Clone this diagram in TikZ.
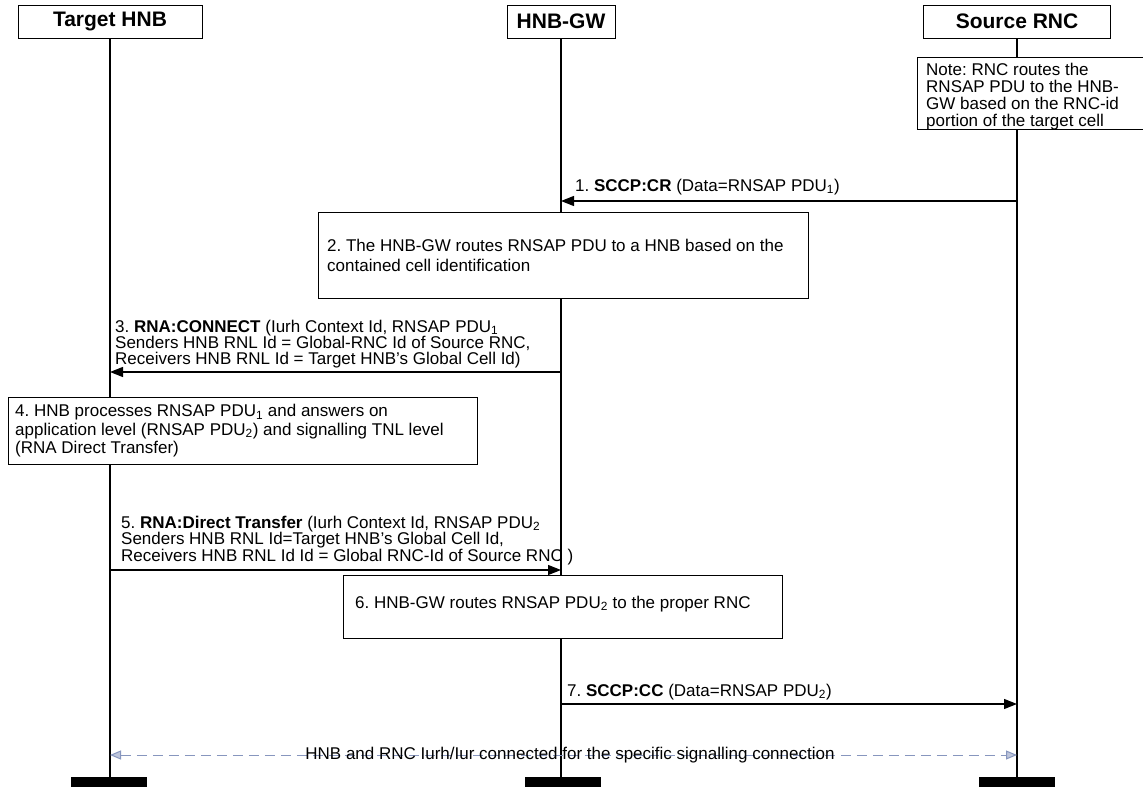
\documentclass[tikz,border=0pt]{standalone}
\usepackage{fontspec}
\setmainfont{Liberation Sans}
\usetikzlibrary{arrows.meta}
\definecolor{dashblue}{RGB}{135,150,190}
\frenchspacing
\begin{document}
\begin{tikzpicture}[x=1pt,y=-1pt,
  hdr/.style={draw, line width=0.9pt, fill=white, minimum height=33pt, inner sep=0pt, font=\fontsize{21}{22}\selectfont\bfseries},
  life/.style={line width=1.2pt},
  bar/.style={fill=black, minimum width=76pt, minimum height=10pt, inner sep=0pt},
  proc/.style={draw, line width=0.9pt, fill=white, anchor=north west, inner sep=0pt},
  txt/.style={anchor=west, inner sep=0pt, align=left},
  lbl/.style={anchor=north west, inner sep=0pt, align=left, font=\fontsize{17}{15.2}\selectfont},
  msg/.style={line width=1.3pt, -{Triangle[length=13pt,width=10pt]}},
  conn/.style={draw=dashblue, line width=1pt, dash pattern=on 10pt off 6pt,
    {Triangle[length=11pt,width=9pt,fill=dashblue!55]}-{Triangle[length=11pt,width=9pt,fill=dashblue!55]}}
]
\useasboundingbox (0,0) rectangle (1143,787);
% headers
\node[hdr, minimum width=184pt] (thnb) at (110,21.5) {Target HNB};
\node[hdr, minimum width=108pt] (gw) at (561,21.5) {HNB-GW};
\node[hdr, minimum width=187pt] (rnc) at (1017,21.5) {Source RNC};
% bottom bars
\node[bar] (b1) at (109,782) {};
\node[bar] (b2) at (563,782) {};
\node[bar] (b3) at (1017,782) {};
% lifelines
\draw[life] (thnb.south) -- (b1.north -| thnb.south);
\draw[life] (gw.south) -- (b2.north -| gw.south);
\draw[life] (rnc.south) -- (b3.north -| rnc.south);
% note
\node[proc, minimum width=226pt, minimum height=72pt] (note) at (917,57) {};
\node[txt, font=\fontsize{17}{16.8}\selectfont] (notet) at ([xshift=9pt,yshift=-3pt]note.west) {Note: RNC routes the\\RNSAP PDU to the HNB-\\GW based on the RNC-id\\portion of the target cell};
% message 1
\coordinate (m1a) at (1017,201);
\coordinate (m1b) at (561,201);
\draw[msg] (m1a) -- (m1b);
\node[lbl] (l1) at (575,178.6) {1. \textbf{SCCP:CR} (Data=RNSAP PDU\textsubscript{1})};
% box 2
\node[proc, minimum width=490pt, minimum height=86pt] (p2) at (318,212) {};
\node[txt, font=\fontsize{17}{20}\selectfont] (p2t) at ([xshift=9pt]p2.west) {2. The HNB-GW routes RNSAP PDU to a HNB based on the\\contained cell identification};
% message 3
\coordinate (m3a) at (561,372);
\coordinate (m3b) at (110,372);
\draw[msg] (m3a) -- (m3b);
\node[lbl] (l3) at (115,319.6) {3. \textbf{RNA:CONNECT} (Iurh Context Id, RNSAP PDU\textsubscript{1}\\Senders HNB RNL Id = Global-RNC Id of Source RNC,\\Receivers HNB RNL Id = Target HNB’s Global Cell Id)};
% box 4
\node[proc, minimum width=469pt, minimum height=67pt] (p4) at (8,397) {};
\node[txt, font=\fontsize{17}{18.5}\selectfont] (p4t) at ([xshift=7pt]p4.west) {4. HNB processes RNSAP PDU\textsubscript{1} and answers on\\application level (RNSAP PDU\textsubscript{2}) and signalling TNL level\\(RNA Direct Transfer)};
% message 5
\coordinate (m5a) at (110,570);
\coordinate (m5b) at (561,570);
\draw[msg] (m5a) -- (m5b);
\node[lbl] (l5) at (121,515.6) {5. \textbf{RNA:Direct Transfer} (Iurh Context Id, RNSAP PDU\textsubscript{2}\\Senders HNB RNL Id=Target HNB’s Global Cell Id,\\Receivers HNB RNL Id Id = Global RNC-Id of Source RNC )};
% box 6
\node[proc, minimum width=439pt, minimum height=63pt] (p6) at (343,575) {};
\node[txt, font=\fontsize{17}{18.5}\selectfont] (p6t) at ([xshift=12pt,yshift=3pt]p6.west) {6. HNB-GW routes RNSAP PDU\textsubscript{2} to the proper RNC};
% message 7
\coordinate (m7a) at (561,704);
\coordinate (m7b) at (1017,704);
\draw[msg] (m7a) -- (m7b);
\node[lbl] (l7) at (567,683.6) {7. \textbf{SCCP:CC} (Data=RNSAP PDU\textsubscript{2})};
% connection
\coordinate (d1) at (110,755);
\coordinate (d2) at (1017,755);
\draw[conn] (d1) -- (d2);
\node[inner sep=0pt, font=\fontsize{17}{18}\selectfont] (dl) at (570,755) {HNB and RNC Iurh/Iur connected for the specific signalling connection};
\end{tikzpicture}
\end{document}
